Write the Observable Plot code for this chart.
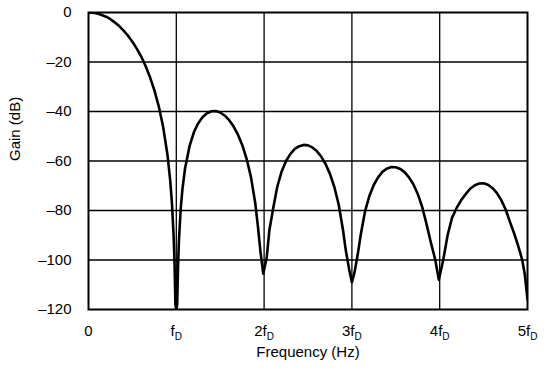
<!DOCTYPE html>
<html>
<head>
<meta charset="utf-8">
<script src="https://cdn.jsdelivr.net/npm/d3@7"></script>
<script src="https://cdn.jsdelivr.net/npm/@observablehq/plot@0.6"></script>
<style>
  html, body { margin: 0; padding: 0; background: white; }
</style>
</head>
<body>
<div id="chart"></div>
<script>
// Frequency in multiples of fD, gain in dB
const freq = [
  0, 0.05, 0.1, 0.15, 0.2, 0.25, 0.3, 0.35, 0.4, 0.45, 0.5, 0.55, 0.6, 0.65, 0.7, 0.75, 0.8, 0.85, 0.9, 0.93, 0.95, 0.97, 0.98, 0.99, 1.0,
  1.01, 1.02, 1.03, 1.05, 1.07, 1.1, 1.15, 1.2, 1.25, 1.3, 1.35, 1.4, 1.45, 1.5, 1.55, 1.6, 1.65, 1.7, 1.75, 1.8, 1.85, 1.9, 1.93, 1.96, 1.99,
  2.03, 2.06, 2.1, 2.15, 2.2, 2.25, 2.3, 2.35, 2.4, 2.45, 2.5, 2.55, 2.6, 2.65, 2.7, 2.75, 2.8, 2.85, 2.9, 2.93, 2.97, 3.0,
  3.03, 3.07, 3.1, 3.15, 3.2, 3.25, 3.3, 3.35, 3.4, 3.45, 3.5, 3.55, 3.6, 3.65, 3.7, 3.75, 3.8, 3.85, 3.9, 3.95, 3.99,
  4.04, 4.09, 4.14, 4.2, 4.25, 4.3, 4.35, 4.4, 4.45, 4.5, 4.55, 4.6, 4.65, 4.7, 4.75, 4.8, 4.85, 4.9, 4.94, 4.97, 5.0
];
const gain = [
  0, -0.1, -0.4, -1.0, -1.7, -2.7, -4.0, -5.5, -7.3, -9.4, -11.8, -14.6, -17.8, -21.6, -26.1, -31.4, -37.9, -46.2, -57.7, -67.6, -76.8, -90.6, -101.4, -118, -120,
  -118, -102.5, -92.2, -79.4, -71.3, -62.9, -54.1, -48.4, -44.7, -42.2, -40.7, -39.9, -39.8, -40.4, -41.6, -43.4, -45.9, -49.2, -53.4, -59.0, -66.4, -77.2, -86.6, -97, -105.5,
  -99, -88, -79.8, -70.4, -64.2, -60.0, -57.1, -55.1, -54.0, -53.5, -53.7, -54.5, -56.0, -58.2, -61.2, -65.2, -70.5, -77.7, -88.2, -96, -104, -109,
  -105, -97, -89.9, -80.3, -74.0, -69.6, -66.5, -64.3, -63.0, -62.4, -62.5, -63.2, -64.5, -66.6, -69.4, -73.3, -78.5, -85.5, -93, -100, -108,
  -100, -90, -83, -78.5, -75.5, -73.2, -71.1, -69.8, -69.1, -69.0, -69.6, -70.9, -72.9, -75.7, -79.5, -84.6, -89.5, -95, -100, -106, -116
];

const xTicks = [0, 1, 2, 3, 4, 5];
const xTickPrefix = ["0", "", "2", "3", "4", "5"];
const yTicks = [0, -20, -40, -60, -80, -100, -120];
const yTickLabels = ["0", "–20", "–40", "–60", "–80", "–100", "–120"];
const xGrid = [1, 2, 3, 4];
const yGrid = [-20, -40, -60, -80, -100];
const xLabel = "Frequency (Hz)";
const yLabel = "Gain (dB)";

const data = freq.map((f, i) => ({f, g: gain[i]}));

const chart = Plot.plot({
  width: 550,
  height: 370,
  marginLeft: 88,
  marginRight: 23,
  marginTop: 12,
  marginBottom: 61,
  x: {domain: [0, 5]},
  y: {domain: [-120, 0]},
  style: {fontFamily: "'Liberation Sans', Arial, sans-serif", fontSize: "15px", background: "white", color: "black"},
  marks: [
    Plot.gridX(xGrid, {stroke: "black", strokeOpacity: 1, strokeWidth: 1.3}),
    Plot.gridY(yGrid, {stroke: "black", strokeOpacity: 1, strokeWidth: 1.3}),
    Plot.line(data, {x: "f", y: "g", stroke: "black", strokeWidth: 2.6, curve: "linear", clip: true}),
    Plot.frame({stroke: "black", strokeWidth: 2}),
    Plot.axisX(xTicks, {tickSize: 0, tickPadding: 16, fontSize: 15, label: null,
      tickFormat: d => xTickPrefix[xTicks.indexOf(d)] + (d === 0 ? "" : "f")}),
    Plot.axisY(yTicks, {tickSize: 0, tickPadding: 17, fontSize: 15, label: null,
      tickFormat: d => yTickLabels[yTicks.indexOf(d)]}),
    Plot.text([xLabel], {frameAnchor: "bottom", dy: 47, fontSize: 15, text: d => d}),
    Plot.text([yLabel], {frameAnchor: "left", rotate: -90, dx: -73, fontSize: 15, text: d => d})
  ]
});

// add subscript "D" to the frequency tick labels
chart.querySelectorAll('g[aria-label="x-axis tick label"] text').forEach(t => {
  const s = t.textContent;
  if (s.endsWith("f")) {
    const sub = document.createElementNS("http://www.w3.org/2000/svg", "tspan");
    sub.setAttribute("dy", "4");
    sub.setAttribute("font-size", "10");
    sub.textContent = "D";
    t.appendChild(sub);
  }
});

document.getElementById("chart").appendChild(chart);
</script>
</body>
</html>
